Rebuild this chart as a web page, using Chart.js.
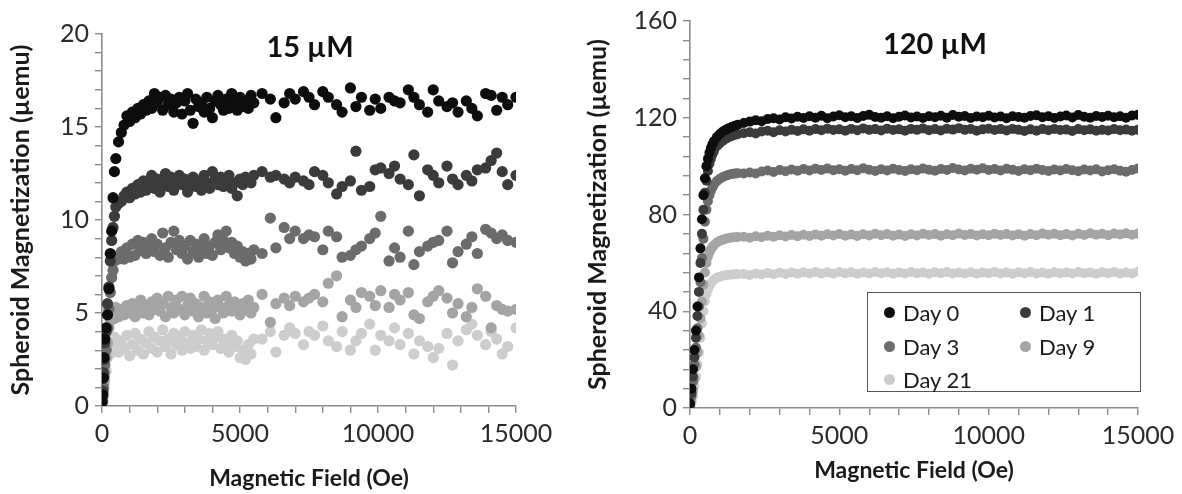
<!DOCTYPE html>
<html>
<head>
<meta charset="utf-8">
<script src="https://cdn.jsdelivr.net/npm/chart.js"></script>
<style>
  body { margin: 0; background: #fff; }
  #wrap { position: relative; width: 1182px; height: 494px; overflow: hidden; font-family: Lato, "Open Sans", sans-serif; }
  #left { position: absolute; left: 0; top: 0; }
  #right { position: absolute; left: 580px; top: 0; }
  #legend { position: absolute; left: 867px; top: 292px; width: 272px; height: 98px; border: 1.5px solid #555; background: #fff; }
  #legend .item { position: absolute; font-size: 22px; color: #1a1a1a; line-height: 24px; white-space: nowrap; }
  #legend .dot { display: inline-block; width: 11px; height: 11px; border-radius: 50%; margin-right: 8px; vertical-align: 3px; }
</style>
</head>
<body>
<div id="wrap">
  <canvas id="left" width="580" height="494"></canvas>
  <canvas id="right" width="602" height="494"></canvas>
  <div id="legend"></div>
</div>
<script>
// series names + colours
const days = ['Day 0', 'Day 1', 'Day 3', 'Day 9', 'Day 21'];
const dayColors = ['#0d0d0d', '#3b3b3b', '#6c6c6c', '#a4a4a4', '#cdcdcd'];

// ---- 15 uM panel ----
const field15 = [0, 25, 50, 75, 100, 150, 200, 250, 300, 350, 400, 450, 500, 600, 700, 800, 900, 1000,
  1100, 1200, 1300, 1400, 1500, 1600, 1700, 1800, 1900, 2000, 2100, 2200, 2300, 2400, 2500, 2600, 2700, 2800, 2900, 3000,
  3100, 3200, 3300, 3400, 3500, 3600, 3700, 3800, 3900, 4000, 4100, 4200, 4300, 4400, 4500, 4600, 4700, 4800, 4900, 5000,
  5100, 5200, 5300, 5400, 5500,
  5800, 6100, 6300, 6600, 6800, 7000, 7300, 7500, 7700, 8000, 8200, 8500, 8700, 9000, 9200, 9400, 9700, 9900, 10100, 10400,
  10600, 10800, 11100, 11300, 11500, 11800, 12000, 12200, 12500, 12700, 12900, 13200, 13400, 13600, 13900, 14100, 14300, 14500, 14700, 15000];

const m15day0 = [0.2, 0.6, 1.5, 2.6, 3.6, 4.2, 4.9, 6.3, 8.2, 9.4, 11.2, 12.6, 13.3, 14.2, 14.7, 15.1, 15.6, 15.3,
  15.8, 15.5, 16.0, 15.7, 16.2, 15.9, 16.4, 16.0, 16.8, 16.3, 16.6, 15.9, 16.7, 16.2, 16.5, 15.8, 16.3, 16.6, 15.7, 16.4,
  16.8, 15.9, 15.2, 16.5, 16.1, 16.3, 15.8, 16.6, 16.0, 15.5, 16.4, 16.7, 16.2, 15.9, 16.5, 16.0, 16.8, 16.3, 15.9, 16.6,
  16.1, 16.4, 16.0, 16.7, 16.3,
  16.8, 16.5, 15.5, 16.3, 16.8, 16.5, 16.9, 16.6, 16.2, 16.9, 16.6, 16.2, 15.8, 17.1, 16.1, 16.6, 15.9, 16.5, 16.0, 16.6,
  16.4, 16.3, 17.0, 16.6, 16.2, 15.8, 17.0, 16.4, 16.1, 16.3, 15.8, 16.4, 16.0, 15.6, 16.8, 16.7, 15.9, 16.6, 16.2, 16.6];

const m15day1 = [0.3, 0.8, 1.8, 2.5, 3.4, 4.0, 5.5, 6.4, 7.8, 8.9, 9.6, 10.2, 10.7, 10.9, 11.0, 11.3, 11.5, 11.2,
  11.7, 11.4, 11.9, 11.5, 12.1, 11.6, 11.9, 12.4, 11.7, 12.2, 11.5, 12.0, 12.5, 11.8, 12.3, 11.6, 12.1, 12.4, 11.9, 12.2,
  11.5, 12.0, 12.3, 11.8, 12.1, 11.6, 12.4, 12.0, 11.7, 12.6, 12.2, 11.9, 12.3, 11.8, 12.1, 12.4, 11.7, 12.0, 11.3, 12.2,
  11.9, 12.3, 12.1, 12.0, 12.4,
  12.6, 12.3, 12.4, 12.2, 12.0, 12.3, 12.1, 11.9, 12.6, 12.4, 12.0, 11.4, 11.8, 12.1, 13.7, 11.6, 11.8, 12.7, 12.8, 12.5,
  12.9, 12.2, 11.9, 13.5, 11.3, 12.7, 12.4, 12.0, 12.9, 12.2, 11.9, 12.4, 12.1, 12.7, 12.8, 13.2, 13.6, 12.6, 11.9, 12.4];

const m15day3 = [0.2, 0.5, 1.0, 1.6, 2.2, 3.0, 4.2, 5.2, 6.1, 6.9, 7.3, 7.8, 8.0, 7.9, 8.3, 7.9, 8.5, 8.0,
  8.7, 8.1, 8.9, 8.4, 8.8, 8.2, 8.6, 9.0, 8.3, 8.7, 8.1, 9.3, 8.5, 8.0, 8.8, 9.4, 8.4, 8.9, 8.2, 8.6,
  7.9, 8.9, 8.3, 8.7, 8.0, 8.5, 9.0, 8.2, 8.6, 8.1, 8.8, 9.2, 8.4, 8.9, 9.4, 8.5, 8.8, 8.2, 8.6, 8.0,
  8.3, 7.8, 8.2, 7.9, 8.4,
  8.2, 10.1, 8.5, 9.6, 9.0, 9.4, 9.0, 9.2, 9.1, 8.4, 9.4, 9.1, 8.0, 8.1, 8.4, 8.6, 9.0, 9.3, 10.2, 7.8,
  8.5, 8.0, 9.4, 7.6, 8.3, 8.6, 8.8, 8.9, 9.4, 7.7, 8.3, 8.7, 9.1, 8.2, 9.5, 9.3, 9.0, 9.2, 8.9, 8.8];

const m15day9 = [0.1, 0.3, 0.7, 1.2, 1.8, 2.6, 3.4, 4.2, 4.6, 4.9, 5.1, 4.7, 5.3, 4.8, 5.2, 4.9, 5.4, 5.0,
  5.5, 4.8, 5.3, 5.7, 5.0, 5.4, 4.9, 5.6, 5.2, 5.8, 5.1, 5.5, 4.8, 5.9, 5.3, 5.0, 5.7, 5.2, 5.9, 4.9,
  5.4, 5.8, 5.1, 5.5, 4.8, 5.3, 5.9, 5.0, 5.6, 5.2, 4.7, 5.7, 5.3, 5.0, 5.9, 5.4, 5.1, 5.6, 5.2, 4.9,
  5.5, 5.2, 5.7, 5.0, 5.3,
  6.0, 4.5, 5.5, 5.8, 5.4, 5.9, 5.6, 5.8, 6.0, 5.6, 6.6, 7.0, 4.8, 5.7, 5.3, 6.1, 5.9, 5.4, 6.2, 5.3,
  6.0, 5.7, 6.1, 4.9, 4.7, 5.6, 5.9, 6.2, 5.8, 5.0, 5.5, 4.8, 5.3, 6.3, 5.9, 4.2, 5.4, 5.2, 5.1, 5.2];

const m15day21 = [0.0, 0.2, 0.5, 0.9, 1.4, 1.9, 2.6, 3.0, 2.8, 3.4, 3.0, 3.7, 3.2, 2.9, 3.5, 3.1, 3.8, 2.7,
  3.3, 3.9, 3.0, 3.6, 2.8, 3.4, 4.0, 3.1, 3.7, 2.9, 3.5, 4.1, 3.2, 3.6, 2.8, 3.9, 3.3, 3.7, 3.0, 4.0,
  3.4, 3.1, 3.8, 3.2, 3.6, 4.1, 3.0, 3.5, 3.9, 3.3, 3.7, 4.0, 3.1, 3.6, 3.4, 2.9, 3.8, 3.2, 3.5, 2.6,
  3.0, 2.5, 3.3, 2.8, 3.6,
  3.6, 4.0, 2.9, 3.8, 4.2, 3.9, 3.3, 4.0, 3.8, 4.3, 3.5, 3.2, 4.0, 3.0, 3.5, 3.9, 4.4, 3.0, 3.8, 3.5,
  4.2, 3.3, 3.9, 2.8, 3.5, 3.2, 2.6, 3.1, 3.9, 2.2, 3.5, 4.1, 4.4, 3.8, 3.3, 4.0, 3.6, 2.8, 3.2, 4.2];

// ---- 120 uM panel ----
const field120 = [0, 50, 100, 150, 200, 250, 300, 350, 400, 450, 500, 550, 600, 650, 700, 750, 800, 900, 1000, 1100, 1200, 1300, 1400, 1500, 1600,
  1800, 2000, 2200, 2400, 2600, 2800, 3000, 3200, 3400, 3600, 3800, 4000, 4200, 4400, 4600, 4800, 5000, 5200, 5400, 5600, 5800, 6000,
  6200, 6400, 6600, 6800, 7000, 7200, 7400, 7600, 7800, 8000, 8200, 8400, 8600, 8800, 9000, 9200, 9400, 9600, 9800, 10000,
  10200, 10400, 10600, 10800, 11000, 11200, 11400, 11600, 11800, 12000, 12200, 12400, 12600, 12800, 13000, 13200, 13400, 13600, 13800, 14000,
  14200, 14400, 14600, 14800, 15000];

const m120day0 = [2, 8, 16, 24, 32, 42, 54, 66, 78, 88, 95, 100, 103, 105.5, 107.5, 109, 110.3, 112, 113.3, 114.3, 115, 115.7, 116.2, 116.7, 117.1,
  117.8, 118.4, 119.0, 118.6, 119.5, 119.8, 119.3, 120.2, 119.7, 120.4, 119.9, 120.6, 120.0, 120.8, 119.8, 120.5, 121.0, 120.2, 120.6, 119.9, 120.7, 121.2,
  120.3, 120.0, 120.6, 119.8, 120.4, 120.9, 120.1, 120.5, 119.9, 120.6, 120.2, 120.8, 120.0, 121.1, 120.4, 120.7, 119.9, 120.5, 120.2, 120.8,
  120.1, 120.5, 119.8, 120.6, 120.3, 120.0, 120.7, 121.0, 120.2, 120.6, 119.9, 120.5, 120.9, 120.1, 121.1, 120.4, 120.0, 120.7, 120.3, 120.8,
  120.2, 120.6, 120.0, 120.9, 121.2];

const m120day1 = [1, 6, 13, 21, 29, 38, 48, 60, 72, 82, 89, 94, 98, 101, 103, 104.8, 106.2, 108.2, 109.5, 110.5, 111.3, 112, 112.5, 112.9, 113.2,
  113.6, 114.0, 113.5, 114.3, 114.6, 114.0, 114.8, 114.3, 115.0, 114.5, 115.2, 114.6, 115.3, 114.8, 115.5, 114.9, 115.2, 114.6, 115.4, 114.8, 115.6, 115.0,
  115.3, 114.7, 115.5, 114.9, 115.2, 114.6, 115.4, 115.0, 115.6, 114.8, 115.3, 114.7, 115.5, 115.1, 115.7, 115.0, 115.4, 114.6, 115.2, 115.5,
  114.9, 115.3, 114.7, 115.4, 115.0, 114.5, 115.2, 114.6, 115.3, 114.8, 115.4, 114.9, 115.1, 114.5, 115.3, 114.8, 115.2, 114.6, 115.0, 114.7,
  115.3, 114.8, 115.1, 114.6, 115.0];

const m120day3 = [1, 5, 11, 18, 25, 33, 42, 52, 62, 70, 77, 82, 85.5, 88, 89.8, 91.2, 92.3, 93.8, 94.8, 95.5, 96, 96.4, 96.7, 96.9, 97.1,
  97.0, 97.4, 97.0, 97.8, 98.2, 97.6, 98.4, 97.9, 98.6, 98.1, 98.8, 98.2, 98.9, 98.4, 99.0, 98.3, 98.7, 98.1, 98.8, 98.3, 99.1, 98.5,
  98.0, 98.7, 98.2, 98.9, 98.4, 98.0, 98.7, 98.3, 99.0, 98.5, 98.1, 98.8, 98.4, 99.2, 98.6, 98.2, 98.9, 98.5, 99.1, 98.4,
  98.8, 98.2, 98.9, 98.5, 98.0, 98.7, 98.3, 98.9, 98.4, 98.0, 98.6, 98.2, 98.8, 98.3, 97.9, 98.6, 98.2, 98.7, 97.8, 98.3,
  98.7, 98.1, 97.7, 98.4, 99.0];

const m120day9 = [0.5, 3, 7, 12, 17, 23, 30, 37, 44, 51, 56, 60, 62.5, 64.3, 65.6, 66.6, 67.3, 68.4, 69.1, 69.6, 70, 70.3, 70.5, 70.6, 70.7,
  70.8, 70.4, 71.0, 70.6, 71.2, 70.8, 71.4, 70.9, 71.5, 71.0, 71.6, 71.1, 71.7, 71.2, 71.8, 71.3, 71.9, 71.2, 71.7, 71.1, 71.8, 71.3,
  72.0, 71.4, 71.9, 71.2, 71.7, 71.1, 71.8, 71.3, 72.0, 71.5, 71.9, 71.2, 71.8, 71.4, 72.1, 71.5, 71.9, 71.3, 71.8, 71.4,
  72.0, 71.5, 71.9, 71.3, 71.8, 71.2, 71.9, 71.4, 72.1, 71.6, 72.0, 71.4, 71.9, 71.3, 72.0, 71.5, 72.2, 71.6, 72.0, 71.4,
  72.1, 71.7, 72.2, 71.6, 72.1];

const m120day21 = [0.3, 2, 5, 9, 13, 18, 23, 29, 35, 40, 44, 47, 49, 50.5, 51.6, 52.4, 53, 53.8, 54.3, 54.7, 54.9, 55.1, 55.2, 55.3, 55.4,
  55.4, 55.0, 55.6, 55.2, 55.8, 55.3, 55.9, 55.4, 56.0, 55.5, 56.1, 55.6, 56.2, 55.6, 56.1, 55.5, 56.2, 55.7, 56.1, 55.5, 56.0, 55.6,
  56.2, 55.7, 56.1, 55.5, 56.0, 55.6, 56.2, 55.7, 56.0, 55.5, 56.1, 55.7, 56.2, 55.6, 56.0, 55.6, 56.1, 55.5, 56.0, 55.7,
  56.2, 55.6, 56.0, 55.5, 56.1, 55.7, 56.2, 55.6, 56.0, 55.5, 56.1, 55.7, 56.0, 55.6, 56.2, 55.7, 56.0, 55.5, 56.1, 55.7,
  56.2, 55.6, 56.0, 55.6, 56.3];

// tick settings
const xMax = 15000, xStep = 1000, xLabelEvery = 5000;
const y15Max = 20, y15Step = 1, y15LabelEvery = 5;
const y120Max = 160, y120Step = 8, y120LabelEvery = 40;

const FONT = 'Lato, "Open Sans", sans-serif';
const axisGray = '#8c8c8c';

function toPoints(xs, ys) {
  return xs.map((x, i) => ({ x: x, y: ys[i] }));
}

function buildDatasets(xs, series, radius) {
  return series.map((ys, i) => ({
    label: days[i],
    data: toPoints(xs, ys),
    backgroundColor: dayColors[i],
    borderColor: dayColors[i],
    borderWidth: 0,
    pointRadius: radius,
    pointHoverRadius: radius,
    showLine: false
  }));
}

// title drawn inside the plot area
const panelTitle = {
  id: 'panelTitle',
  afterDraw(chart, args, opts) {
    const ctx = chart.ctx;
    ctx.save();
    ctx.font = 'bold 29px ' + FONT;
    ctx.fillStyle = '#111';
    ctx.textAlign = 'center';
    ctx.textBaseline = 'middle';
    ctx.fillText(opts.text, opts.x, opts.y);
    ctx.restore();
  }
};

function buildOptions(c) {
  return {
    responsive: false,
    animation: false,
    layout: { padding: { left: 0, right: c.padRight, top: c.padTop, bottom: 0 } },
    plugins: {
      legend: { display: false },
      tooltip: { enabled: false },
      panelTitle: { text: c.title, x: c.titleX, y: c.titleY }
    },
    scales: {
      x: {
        type: 'linear',
        min: 0, max: xMax,
        afterFit: s => { s.height = c.xHeight; },
        border: { color: axisGray, width: 1.6 },
        grid: { drawOnChartArea: false, drawTicks: true, tickLength: 7, color: axisGray, lineWidth: 1.4 },
        ticks: {
          stepSize: xStep, autoSkip: false, maxRotation: 0, padding: 6,
          color: '#2a2a2a', font: { family: FONT, size: 25 },
          callback: v => (v % xLabelEvery === 0 ? String(v) : '')
        },
        title: {
          display: true, text: 'Magnetic Field (Oe)', color: '#1a1a1a',
          font: { family: FONT, size: 23, weight: 'bold' },
          padding: { top: 0, bottom: c.xTitlePad }
        }
      },
      y: {
        type: 'linear',
        min: 0, max: c.yMax,
        afterFit: s => { s.width = c.yWidth; },
        border: { color: axisGray, width: 1.6 },
        grid: { drawOnChartArea: false, drawTicks: true, tickLength: 7, color: axisGray, lineWidth: 1.4 },
        ticks: {
          stepSize: c.yStep, autoSkip: false, padding: 6,
          color: '#2a2a2a', font: { family: FONT, size: 25 },
          callback: v => (v % c.yLabelEvery === 0 ? String(v) : '')
        },
        title: {
          display: true, text: 'Spheroid Magnetization (µemu)', color: '#1a1a1a',
          font: { family: FONT, size: 25, weight: 'bold' },
          padding: { top: c.yTitlePad, bottom: 0 }
        }
      }
    }
  };
}

new Chart(document.getElementById('left'), {
  type: 'scatter',
  data: { datasets: buildDatasets(field15, [m15day0, m15day1, m15day3, m15day9, m15day21], 5.6) },
  options: buildOptions({
    title: '15 µM', titleX: 310, titleY: 48,
    yMax: y15Max, yStep: y15Step, yLabelEvery: y15LabelEvery,
    yWidth: 102, xHeight: 88, padRight: 64, padTop: 34,
    xTitlePad: 2, yTitlePad: 6
  }),
  plugins: [panelTitle]
});

new Chart(document.getElementById('right'), {
  type: 'scatter',
  data: { datasets: buildDatasets(field120, [m120day0, m120day1, m120day3, m120day9, m120day21], 5) },
  options: buildOptions({
    title: '120 µM', titleX: 355, titleY: 45,
    yMax: y120Max, yStep: y120Step, yLabelEvery: y120LabelEvery,
    yWidth: 110, xHeight: 86, padRight: 44, padTop: 20,
    xTitlePad: 10, yTitlePad: 3
  }),
  plugins: [panelTitle]
});

// legend box (html)
const legendPos = [[16, 8], [152, 8], [16, 42], [152, 42], [16, 75]];
const legendEl = document.getElementById('legend');
days.forEach((d, i) => {
  const item = document.createElement('div');
  item.className = 'item';
  item.style.left = legendPos[i][0] + 'px';
  item.style.top = legendPos[i][1] + 'px';
  item.innerHTML = '<span class="dot" style="background:' + dayColors[i] + '"></span>' + d;
  legendEl.appendChild(item);
});
</script>
</body>
</html>
